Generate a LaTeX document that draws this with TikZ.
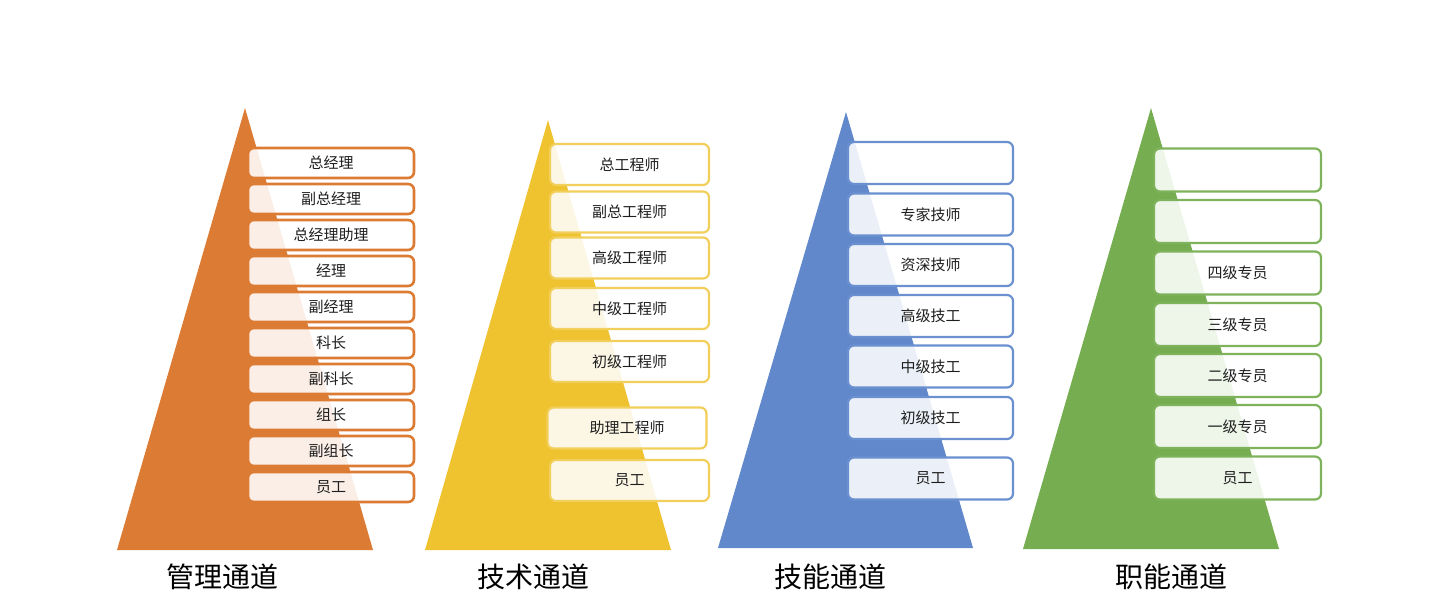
\documentclass[tikz,border=0pt]{standalone}
\usepackage{fontspec}
\newfontfamily\cjk{Noto Sans CJK SC}
\definecolor{corange}{HTML}{DC7B33}
\definecolor{cyellow}{HTML}{EEC32F}
\definecolor{cblue}{HTML}{6088CB}
\definecolor{cgreen}{HTML}{76AD51}
\definecolor{byellow}{HTML}{F2CE5A}
\definecolor{bblue}{HTML}{6A90D0}
\definecolor{bgreen}{HTML}{7EB35C}
\definecolor{txt}{HTML}{1E1E1E}
\tikzset{
  lvl/.style={rounded corners=6pt, fill=white, fill opacity=0.88, text opacity=1,
    line width=2.2pt, inner sep=0pt, font=\cjk\fontsize{15}{15}\selectfont, text=txt},
  obox/.style={lvl, draw=corange, line width=2.6pt, minimum width=166pt, minimum height=30pt},
  ybox/.style={lvl, draw=byellow, minimum width=159pt, minimum height=41pt},
  bbox/.style={lvl, draw=bblue, minimum width=165pt, minimum height=42pt},
  gbox/.style={lvl, draw=bgreen, minimum width=167pt, minimum height=43pt},
  chan/.style={font=\cjk\fontsize{28}{28}\selectfont, text=black, inner sep=0pt}
}
\begin{document}
\begin{tikzpicture}[x=1pt,y=-1pt]
\useasboundingbox (0,0) rectangle (1440,608);
% triangles
\fill[corange] (245,108) -- (373,550) -- (117,550) -- cycle;
\fill[cyellow] (548,120) -- (671,550) -- (425,550) -- cycle;
\fill[cblue] (846,112) -- (973,548) -- (718,548) -- cycle;
\fill[cgreen] (1151,108) -- (1279,549) -- (1023,549) -- cycle;
% orange boxes
\node[obox] (o1) at (331,163) {总经理};
\node[obox] (o2) at (331,199) {副总经理};
\node[obox] (o3) at (331,235) {总经理助理};
\node[obox] (o4) at (331,271) {经理};
\node[obox] (o5) at (331,307) {副经理};
\node[obox] (o6) at (331,343) {科长};
\node[obox] (o7) at (331,379) {副科长};
\node[obox] (o8) at (331,415) {组长};
\node[obox] (o9) at (331,451) {副组长};
\node[obox] (o10) at (331,487) {员工};
% yellow boxes
\node[ybox] (y1) at (629.5,164.5) {总工程师};
\node[ybox] (y2) at (629.5,212) {副总工程师};
\node[ybox] (y3) at (629.5,258) {高级工程师};
\node[ybox] (y4) at (629.5,308.5) {中级工程师};
\node[ybox] (y5) at (629.5,361.5) {初级工程师};
\node[ybox] (y6) at (627,428) {助理工程师};
\node[ybox] (y7) at (629.5,480.5) {员工};
% blue boxes
\node[bbox] (b1) at (930.5,163) {};
\node[bbox] (b2) at (930.5,214.5) {专家技师};
\node[bbox] (b3) at (930.5,265) {资深技师};
\node[bbox] (b4) at (930.5,316) {高级技工};
\node[bbox] (b5) at (930.5,366.5) {中级技工};
\node[bbox] (b6) at (930.5,418) {初级技工};
\node[bbox] (b7) at (930.5,478.5) {员工};
% green boxes
\node[gbox] (g1) at (1237.5,170) {};
\node[gbox] (g2) at (1237.5,221.5) {};
\node[gbox] (g3) at (1237.5,273) {四级专员};
\node[gbox] (g4) at (1237.5,324.5) {三级专员};
\node[gbox] (g5) at (1237.5,375.5) {二级专员};
\node[gbox] (g6) at (1237.5,426.5) {一级专员};
\node[gbox] (g7) at (1237.5,478) {员工};
% channel labels
\node[chan] (c1) at (222,577) {管理通道};
\node[chan] (c2) at (533,577) {技术通道};
\node[chan] (c3) at (830,577) {技能通道};
\node[chan] (c4) at (1171,577) {职能通道};
\end{tikzpicture}
\end{document}
